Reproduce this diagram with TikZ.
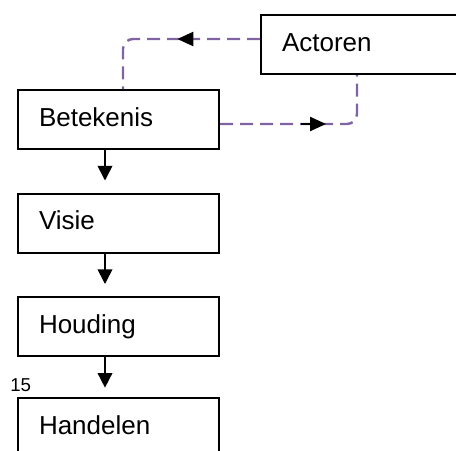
\documentclass[tikz,border=0pt]{standalone}
\usepackage{fontspec}
\setmainfont{Liberation Sans}
\usetikzlibrary{arrows.meta,decorations.markings}
\definecolor{dashpurple}{HTML}{8064A2}
\tikzset{
  box/.style={draw, line width=1.5pt, rectangle, fill=white,
    minimum width=150.75pt, minimum height=44.25pt,
    text width=119.25pt, align=left, inner xsep=15.75pt, inner ysep=0pt,
    text height=9.75pt, text depth=0pt,
    font=\fontsize{19.5pt}{22pt}\selectfont},
  flow/.style={line width=1.2pt, -{Triangle[length=11pt,width=11pt]}, shorten >=9pt},
  link/.style={draw=dashpurple, line width=1.8pt, dash pattern=on 9.75pt off 5.25pt,
    rounded corners=7.5pt},
  midarrow/.style={postaction={decorate}, decoration={markings,
    mark=at position #1 with {\arrow[black,solid]{Triangle[length=12pt,width=10.5pt]}}}},
  midshaft/.style={postaction={decorate}, decoration={markings,
    mark=at position #1 with {\draw[black,solid,line width=1.5pt] (-18.75pt,0) -- (-6pt,0);
      \arrow[black,solid]{Triangle[length=12pt,width=10.5pt]}}}},
  numlabel/.style={font=\fontsize{14pt}{16pt}\selectfont, inner sep=0pt, anchor=base west}
}
\begin{document}
\begin{tikzpicture}[x=0.75pt,y=-0.75pt]
\useasboundingbox (0,0) rectangle (456,450);
\clip (0,0) rectangle (456,450);
\node[box] (act) at (361.5,44.5) {Actoren};
\node[box] (bet) at (118.5,119.5) {Betekenis};
\node[box] (vis) at (118.5,223) {Visie};
\node[box] (hou) at (118.5,326.5) {Houding};
\node[box] (han) at (118.5,427.5) {Handelen};
\node[numlabel] (num) at (10,391) {15};
\draw[flow] ([xshift=-10.125pt]bet.south) -- ([xshift=-10.125pt]vis.north);
\draw[flow] ([xshift=-10.125pt]vis.south) -- ([xshift=-10.125pt]hou.north);
\draw[flow, shorten >=7pt] ([xshift=-10.125pt]hou.south) -- ([xshift=-10.125pt]han.north);
\draw[link, midarrow=62pt] ([yshift=4.125pt]act.west) -| ([xshift=3.375pt]bet.north);
\draw[link, midshaft=79.5pt] ([yshift=-3.375pt]bet.east) -| ([xshift=-3.375pt]act.south);
\end{tikzpicture}
\end{document}
